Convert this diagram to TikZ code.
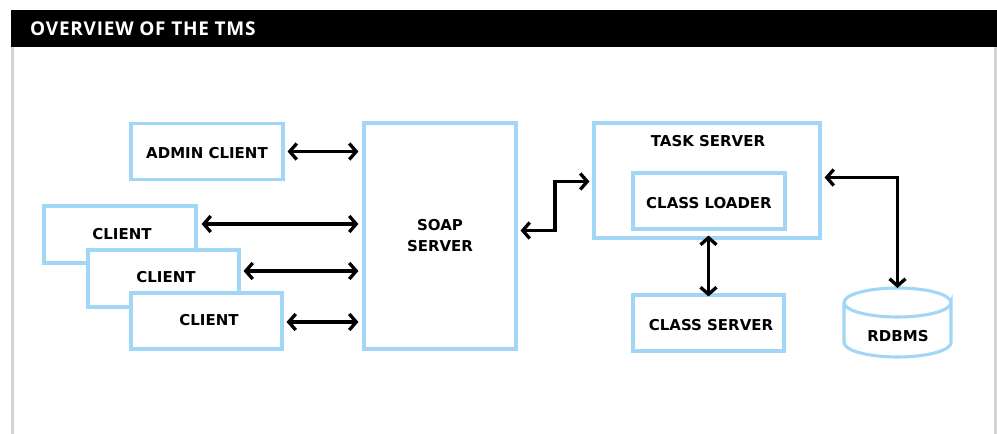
\documentclass[tikz,border=0pt]{standalone}
\usepackage{fontspec}
\setmainfont{DejaVu Sans}
\newfontfamily\titlefont[LetterSpace=4]{Open Sans}
\usetikzlibrary{arrows.meta,calc}
\definecolor{boxblue}{RGB}{162,214,247}
\definecolor{framegray}{RGB}{212,212,212}
\tikzset{
  box/.style={draw=boxblue, line width=3.1pt, fill=white, rectangle, inner sep=0pt},
  lbl/.style={font=\fontsize{15}{21}\selectfont\bfseries, text=black, align=center, inner sep=0pt},
  biarrow/.style={line width=3.3pt, {Straight Barb[length=7pt,width=16pt]}-{Straight Barb[length=7pt,width=16pt]}},
}
\begin{document}
\begin{tikzpicture}[x=1pt,y=-1pt]
\useasboundingbox (0,0) rectangle (997,434);
% frame and title bar
\draw[framegray, line width=2.4pt] (12.5,47) -- (12.5,434);
\draw[framegray, line width=2.4pt] (995.5,47) -- (995.5,434);
\fill[black] (11,10) rectangle (997,47);
\node[anchor=base west, inner sep=0pt, text=white, font=\titlefont\fontsize{19}{20}\selectfont\bfseries] (title) at (30,35.5) {OVERVIEW OF THE TMS};

% clients (stacked)
\node[box, minimum width=152pt, minimum height=57pt] (client1) at (120,234.5) {};
\node[lbl] at (122,234.5) {CLIENT};
\node[box, minimum width=151pt, minimum height=57pt] (client2) at (163.5,278.5) {};
\node[lbl] at (166,277.5) {CLIENT};
\node[box, minimum width=151pt, minimum height=56pt] (client3) at (206.5,321) {};
\node[lbl] at (209,320.5) {CLIENT};

\node[box, minimum width=152pt, minimum height=56pt] (admin) at (207,151.5) {};
\node[lbl] at (207,153) {ADMIN CLIENT};

% SOAP server
\node[box, minimum width=152pt, minimum height=226pt, lbl] (soap) at (440,236) {SOAP\\SERVER};

% task server with class loader
\node[box, minimum width=226pt, minimum height=115pt] (task) at (707,180.5) {};
\node[lbl, anchor=north] (tasklbl) at ($(task.north)+(1,14)$) {TASK SERVER};
\node[box, minimum width=152pt, minimum height=56pt] (loader) at (709,201) {};
\node[lbl] at (709,203) {CLASS LOADER};

% class server
\node[box, minimum width=151pt, minimum height=56pt] (classsrv) at (708.5,323) {};
\node[lbl] at (711,325) {CLASS SERVER};

% RDBMS cylinder
\coordinate (dbtop) at (897.5,288);
\draw[boxblue, line width=3.1pt, fill=white]
  (844,302.5) -- (844,342.5) arc[start angle=180, end angle=0, x radius=53.5, y radius=14.5]
  -- (951,302.5) arc[start angle=0, end angle=360, x radius=53.5, y radius=14.5];
\node[lbl] (rdbms) at (898,336) {RDBMS};

% connector end points
\coordinate (c1) at ($(client1.east)+(0,-10.5)$);
\coordinate (c2) at ($(client2.east)+(0,-7.5)$);
\coordinate (c3) at ($(client3.east)+(0,1)$);
\coordinate (s1) at (soap.east |- 0,230.5);
\coordinate (t1) at (task.west |- 0,181.5);
\coordinate (t2) at (task.east |- 0,177.5);

% connectors
\draw[biarrow] ([xshift=3pt]admin.east) -- ([xshift=-4pt]admin.east -| soap.west);
\draw[biarrow] ([xshift=4pt]c1) -- ([xshift=-4pt]c1 -| soap.west);
\draw[biarrow] ([xshift=3pt]c2) -- ([xshift=-4pt]c2 -| soap.west);
\draw[biarrow] ([xshift=3pt]c3) -- ([xshift=-4pt]c3 -| soap.west);
\draw[biarrow] ([xshift=3pt]s1) -- (555,230.5) -- (555,181.5) -- ([xshift=-3pt]t1);
\draw[biarrow] ([yshift=4pt]task.south -| classsrv.north) -- ([yshift=-3pt]classsrv.north);
\draw[biarrow] ([xshift=3pt]t2) -- (897.5,177.5) -- (dbtop);
\end{tikzpicture}
\end{document}
